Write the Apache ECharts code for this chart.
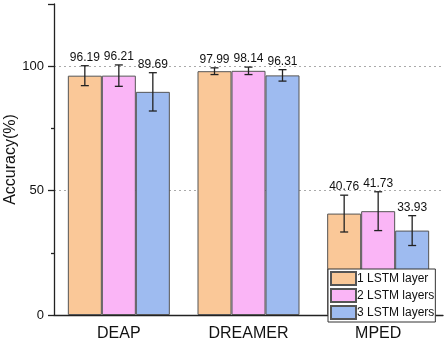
<!DOCTYPE html>
<html><head><meta charset="utf-8">
<script src="https://cdn.jsdelivr.net/npm/echarts@6/dist/echarts.min.js"></script>
<style>html,body{margin:0;padding:0;background:#fff}#c{width:447px;height:343px}</style>
</head><body><div id="c"></div>
<script>
const categories = ['DEAP', 'DREAMER', 'MPED'];
const seriesNames = ['1 LSTM layer', '2 LSTM layers', '3 LSTM layers'];
const layer1 = [96.19, 97.99, 40.76];
const layer2 = [96.21, 98.14, 41.73];
const layer3 = [89.69, 96.31, 33.93];
const err1 = [4.0, 1.35, 7.4];
const err2 = [4.3, 1.5, 7.8];
const err3 = [7.7, 2.3, 6.0];
const yTicks = [0, 50, 100];

const values = [layer1, layer2, layer3];
const errs = [err1, err2, err3];
const colors = ['#FAC898', '#FAB5F6', '#9EBBF0'];
const BW = 34;
const FONT = 'Liberation Sans, Arial, sans-serif';

const chart = echarts.init(document.getElementById('c'));
const series = [];
values.forEach((v, i) => {
  series.push({
    name: seriesNames[i], type: 'bar', data: v, barWidth: BW, barGap: '0%',
    itemStyle: { color: colors[i], borderColor: '#555', borderWidth: 1 },
    z: 2
  });
});
values.forEach((v, i) => {
  series.push({
    type: 'custom', z: 5, silent: true,
    data: v.map((val, k) => [k, val, errs[i][k]]),
    renderItem: function (params, api) {
      const k = api.value(0), val = api.value(1), e = api.value(2);
      const c = api.coord([k, val]);
      const x = c[0] + (i - 1) * BW;
      const top = api.coord([k, val + e])[1];
      const bot = api.coord([k, val - e])[1];
      const cap = 4;
      const st = { stroke: '#222', lineWidth: 1.3 };
      return { type: 'group', children: [
        { type: 'line', shape: { x1: x, y1: top, x2: x, y2: bot }, style: st },
        { type: 'line', shape: { x1: x - cap, y1: top, x2: x + cap, y2: top }, style: st },
        { type: 'line', shape: { x1: x - cap, y1: bot, x2: x + cap, y2: bot }, style: st },
        { type: 'text', x: x, y: top - 2, style: { text: val.toFixed(2), fill: '#111', font: '12px ' + FONT, textAlign: 'center', textVerticalAlign: 'bottom' } }
      ]};
    }
  });
});

chart.setOption({
  animation: false,
  textStyle: { fontFamily: FONT },
  grid: { left: 54, right: 4, top: 4, bottom: 28, containLabel: false, outerBoundsMode: 'none' },
  legend: {
    data: seriesNames, orient: 'vertical', left: 328, top: 269,
    itemWidth: 25, itemHeight: 13, itemGap: 2, padding: [2, 1, 2, 2],
    backgroundColor: '#fff', borderColor: '#333', borderWidth: 1, borderRadius: 0,
    textStyle: { fontSize: 12, color: '#111', fontFamily: FONT, padding: [0, 0, 0, -4] },
    icon: 'rect'
  },
  xAxis: {
    type: 'category', data: categories,
    axisLine: { lineStyle: { color: '#222', width: 1.3 } },
    axisTick: { show: false },
    axisLabel: { fontSize: 16, color: '#111', margin: 11, fontFamily: FONT },
    splitLine: { show: false }
  },
  yAxis: {
    type: 'value', min: 0, max: 125, interval: 50,
    name: 'Accuracy(%)', nameLocation: 'middle', nameGap: 35, nameMoveOverlap: false,
    nameTextStyle: { fontSize: 16, color: '#111', fontFamily: FONT },
    axisLine: { show: true, lineStyle: { color: '#222', width: 1.3 } },
    axisTick: { show: true, length: 6, lineStyle: { color: '#222', width: 1.3 } },
    minorTick: { show: true, splitNumber: 2, length: 3, lineStyle: { color: '#222', width: 1.3 } },
    axisLabel: { fontSize: 13, color: '#111', margin: 10, showMaxLabel: false, fontFamily: FONT,
      formatter: v => (yTicks.indexOf(v) >= 0 ? String(v) : '') },
    splitLine: { show: true, showMinLine: false, showMaxLine: false, lineStyle: { color: '#aaa', type: [2, 3], width: 1 } }
  },
  series: series
});
</script></body></html>
